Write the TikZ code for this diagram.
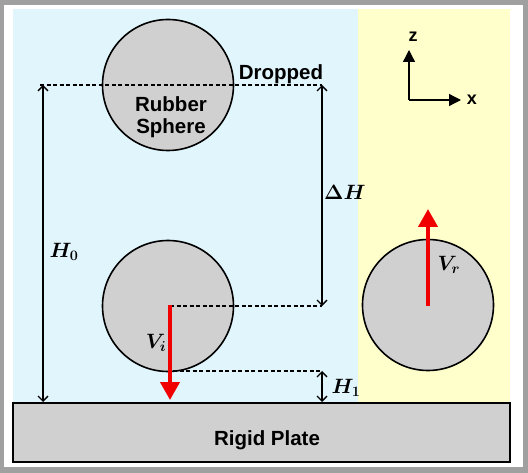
\documentclass[tikz,border=0pt]{standalone}
\usepackage{fontspec}
\usepackage{amsmath}
\usepackage{bm}
\setmainfont{Liberation Sans}
\usetikzlibrary{arrows.meta}
\definecolor{frameg}{RGB}{160,160,160}
\definecolor{skyb}{RGB}{225,245,252}
\definecolor{paley}{RGB}{255,255,204}
\definecolor{ballg}{RGB}{208,208,208}
\definecolor{vred}{RGB}{240,0,0}
\tikzset{
  ball/.style={circle, draw=black, line width=1.6pt, fill=ballg, minimum size=131pt, inner sep=0pt},
  lbl/.style={font=\fontsize{20.5}{24}\selectfont\bfseries, inner sep=0pt, align=center},
  mlbl/.style={font=\fontsize{21}{24}\selectfont, inner sep=0pt},
  guide/.style={line width=1.2pt, dash pattern=on 4pt off 2.5pt},
  dim/.style={line width=1.3pt, {Straight Barb[length=5pt,width=10pt]}-{Straight Barb[length=5pt,width=10pt]}},
  vel/.style={vred, line width=4pt, -{Triangle[length=18pt,width=19pt]}},
  axis/.style={line width=1.3pt, -{Triangle[length=12pt,width=12pt]}}
}
\begin{document}
\begin{tikzpicture}[x=1pt,y=-1pt]
\useasboundingbox (0,0) rectangle (528,473);
% frame and backgrounds
\fill[frameg] (0,0) rectangle (528,473);
\fill[white] (4,5) rectangle (523,467);
\fill[skyb] (13,9) rectangle (358,403);
\fill[paley] (358,9) rectangle (510,403);
% plate
\node[draw=black, line width=2.2pt, fill=ballg, minimum width=497pt, minimum height=59pt, inner sep=0pt] (plate) at (261.5,432.5) {};
\node[lbl] (platel) at (267,440) {Rigid Plate};
% spheres
\node[ball] (s1) at (168,85) {};
\node[ball] (s2) at (168,306) {};
\node[ball] (s3) at (428,305) {};
\node[lbl] (rs) at (171,117) {Rubber\\[-2pt]Sphere};
\node[lbl] (drop) at (281,74) {Dropped};
% guide coordinates
\coordinate (d1a) at (40,85);
\coordinate (d1b) at (322,85);
\coordinate (d2a) at (170,306);
\coordinate (d2b) at (322,306);
\coordinate (d3a) at (173,371);
\coordinate (d3b) at (322,371);
\coordinate (h0t) at (43,85);
\coordinate (h0b) at (43,402);
\coordinate (h1b) at (322,402);
\draw[guide] (d1a) -- (d1b);
\draw[guide] (d2a) -- (d2b);
\draw[guide] (d3a) -- (d3b);
% dimension arrows
\draw[dim] (h0t) -- (h0b);
\draw[dim] (d1b) -- (d2b);
\draw[dim] (d3b) -- (h1b);
\node[mlbl] (dh) at (345,192) {$\bm{\Delta H}$};
\node[mlbl] (h0) at (64,252) {$\bm{H_0}$};
\node[mlbl] (h1) at (346,388) {$\bm{H_1}$};
% velocities
\coordinate (vis) at (170,305);
\coordinate (vit) at (170,400);
\coordinate (vrt) at (428,209);
\coordinate (vrs) at (428,306);
\draw[vel] (vis) -- (vit);
\draw[vel] (vrs) -- (vrt);
\node[mlbl] (vi) at (156,343) {$\bm{V_i}$};
\node[mlbl] (vr) at (449,265) {$\bm{V_r}$};
% axes
\coordinate (o) at (409,100);
\coordinate (zt) at (409,50);
\coordinate (xt) at (461,100);
\draw[axis] (o) -- (zt);
\draw[axis] (o) -- (xt);
\node[lbl, font=\fontsize{18}{21}\selectfont\bfseries] (zl) at (413,37) {z};
\node[lbl, font=\fontsize{18}{21}\selectfont\bfseries] (xl) at (472,100) {x};
\end{tikzpicture}
\end{document}
